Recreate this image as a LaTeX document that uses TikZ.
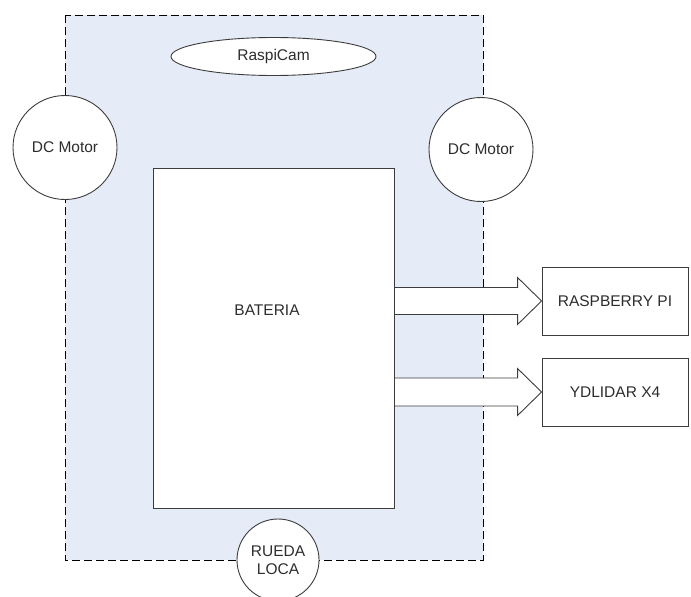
\documentclass[tikz,border=0pt]{standalone}
\usepackage{fontspec}
\setmainfont{Liberation Sans}
\usetikzlibrary{shapes.geometric,calc}
\definecolor{bgblue}{RGB}{230,236,247}
\definecolor{edgegray}{RGB}{60,60,60}
\definecolor{txtgray}{RGB}{45,45,45}
\begin{document}
\begin{tikzpicture}[x=1pt,y=-1pt,
  font=\fontsize{15.5}{18}\selectfont,
  every node/.style={text=txtgray},
  body/.style={draw=black, fill=bgblue, line width=0.8pt, dash pattern=on 8pt off 4pt},
  motor/.style={circle, draw=edgegray, fill=white, line width=0.9pt, minimum size=104pt, inner sep=0pt},
  wheel/.style={circle, draw=edgegray, fill=white, line width=0.9pt, minimum size=82pt, inner sep=0pt, align=center},
  cam/.style={ellipse, draw=edgegray, fill=white, line width=0.9pt, minimum width=205pt, minimum height=38pt, inner sep=0pt},
  block/.style={rectangle, draw=edgegray, fill=white, line width=0.9pt, inner sep=0pt},
  barrow/.style={draw=edgegray, fill=white, line width=0.9pt, line join=miter}
]
\useasboundingbox (0,0) rectangle (691,597);
\clip (0,0) rectangle (691,597);
% robot body
\draw[body] (65,15) rectangle (483,560);
% external boxes
\node[block, minimum width=146pt, minimum height=68pt] (rpi) at (615,301) {RASPBERRY PI};
\node[block, minimum width=146pt, minimum height=68pt] (lidar) at (615,392) {YDLIDAR X4};
% battery edge
\coordinate (batE) at (394,338);
% arrows
\path[barrow] ($(batE |- rpi.west)+(0,-13.5)$) -- ($(rpi.west)+(-24,-13.5)$) -- ($(rpi.west)+(-24,-23.5)$) -- (rpi.west) -- ($(rpi.west)+(-24,23.5)$) -- ($(rpi.west)+(-24,13.5)$) -- ($(batE |- rpi.west)+(0,13.5)$);
\path[barrow] ($(batE |- lidar.west)+(0,-14)$) -- ($(lidar.west)+(-24,-14)$) -- ($(lidar.west)+(-24,-23.5)$) -- (lidar.west) -- ($(lidar.west)+(-24,23.5)$) -- ($(lidar.west)+(-24,14)$) -- ($(batE |- lidar.west)+(0,14)$);
% battery
\node[block, minimum width=241pt, minimum height=340pt] (bat) at (273.5,338) {};
\node (batlabel) at (267,310) {BATERIA};
% camera
\node[cam] (cam) at (273.5,56.5) {RaspiCam};
% motors
\node[motor] (ml) at (65,147.5) {DC Motor};
\node[motor] (mr) at (481,149.5) {DC Motor};
% caster wheel
\node[wheel] (rueda) at (278,560) {RUEDA\\LOCA};
\end{tikzpicture}
\end{document}
